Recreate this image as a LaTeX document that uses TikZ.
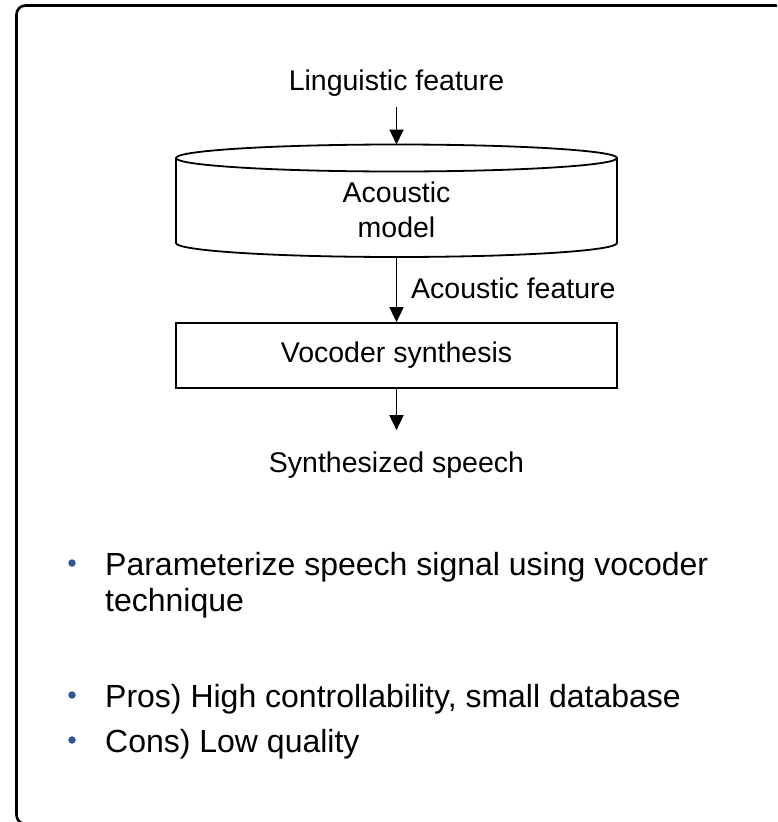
\documentclass[tikz,border=0pt]{standalone}
\usepackage{fontspec}
\setmainfont{Liberation Sans}
\usetikzlibrary{arrows.meta}
\definecolor{bulletblue}{RGB}{47,85,151}
\tikzset{
  flowarrow/.style={-{Triangle[length=15pt,width=14pt]}, line width=1.8pt},
  flowlabel/.style={font=\fontsize{28.5}{35}\selectfont, inner sep=0pt, align=center},
  procbox/.style={draw, line width=1.8pt, minimum width=441pt, minimum height=65pt, inner sep=0pt, flowlabel},
  drumline/.style={line width=1.8pt},
  itemtext/.style={font=\fontsize{32}{36}\selectfont, inner sep=0pt, align=left},
  itemdot/.style={circle, fill=bulletblue, minimum size=7.5pt, inner sep=0pt}
}

\begin{document}
\begin{tikzpicture}[x=1pt, y=-1pt]
  \useasboundingbox (0,0) rectangle (777,822);
  \clip (0,0) rectangle (777,822);
  % slide frame
  \draw[line width=2.6pt, rounded corners=9pt] (16.5,5.5) rectangle (785,824);

  % flow
  \node[flowlabel, anchor=base] (ling) at (396.5,90) {Linguistic feature};
  \draw[drumline] (176,158) -- (176,243) arc[start angle=180, end angle=0, x radius=220.5, y radius=14] -- (617,158);
  \draw[drumline, fill=white] (396.5,158) ellipse [x radius=220.5, y radius=13.5];
  \coordinate (modeltop) at (396.5,144.5);
  \coordinate (modelbot) at (396.5,257);
  \node[flowlabel] (model) at (396.5,209.5) {Acoustic\\model};
  \node[flowlabel, anchor=base west] (acfeat) at (411,298) {Acoustic feature};
  \node[procbox] (vocoder) at (396.5,355.5) {Vocoder synthesis};
  \node[flowlabel, anchor=base] (synth) at (396.5,472) {Synthesized speech};
  \draw[flowarrow, shorten <=11pt] (ling.south) -- (modeltop);
  \draw[flowarrow] (modelbot) -- (vocoder);
  \draw[flowarrow, shorten >=21pt] (vocoder) -- (synth);

  % bullet list
  \node[itemtext, anchor=base west] (item1) at (105,611) {Parameterize speech signal using vocoder\\technique};
  \node[itemtext, anchor=base west] (item2) at (105,707) {Pros) High controllability, small database};
  \node[itemtext, anchor=base west] (item3) at (105,752) {Cons) Low quality};
  \node[itemdot] (dot1) at (72,563) {};
  \node[itemdot] (dot2) at (72,695) {};
  \node[itemdot] (dot3) at (72,740) {};
\end{tikzpicture}
\end{document}
